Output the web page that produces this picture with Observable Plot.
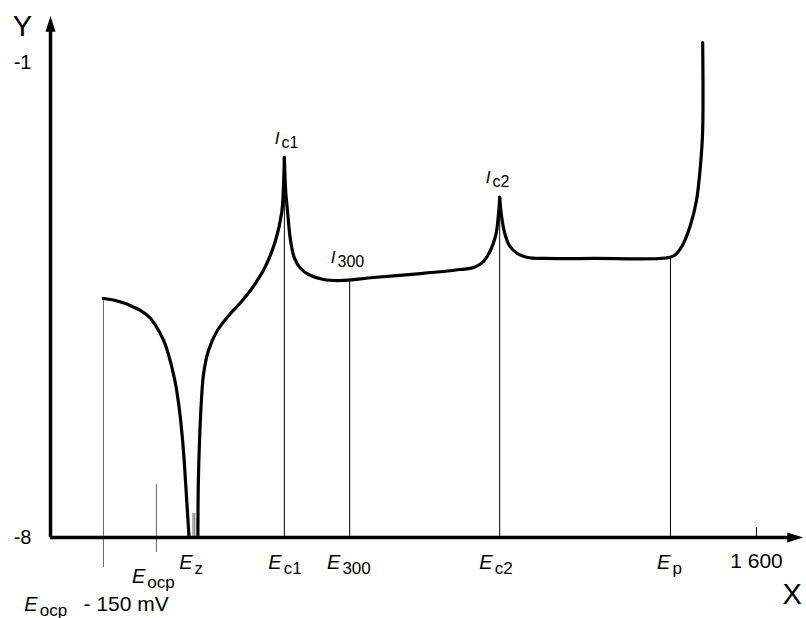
<!DOCTYPE html>
<html><head><meta charset="utf-8">
<script src="https://cdn.jsdelivr.net/npm/d3@7"></script>
<script src="https://cdn.jsdelivr.net/npm/@observablehq/plot@0.6"></script>
<style>body{margin:0;background:#fff;} svg{display:block}</style>
</head><body><div id="chart"></div>
<script>
// Potential (mV) vs log current density, schematic polarisation curve
const cathodicBranch = [[120,-4.478],[147,-4.507],[170,-4.552],[190,-4.610],[204,-4.654],[227,-4.773],[245,-4.950],[261,-5.170],[274,-5.465],[286,-5.833],[295,-6.275],[303,-6.865],[308,-7.380],[314,-8.0]];
const activeBranch = [[334,-8.0],[335,-7.204],[338,-6.526],[342,-5.981],[347,-5.583],[358,-5.244],[378,-4.949],[408,-4.699],[431,-4.537],[458,-4.316],[487,-4.006],[510,-3.623],[524,-3.211],[528,-2.813],[530,-2.400]];
const passiveBranch = [[530,-2.400],[533,-2.886],[537,-3.181],[544,-3.623],[553,-3.888],[567,-4.036],[585,-4.124],[619,-4.198],[657,-4.213],[732,-4.168],[839,-4.110],[929,-4.051],[959,-4.021],[981,-3.933],[997,-3.771],[1009,-3.549],[1015,-3.255],[1018,-2.989]];
const transpassiveBranch = [[1018,-2.989],[1022,-3.255],[1029,-3.505],[1040,-3.697],[1058,-3.815],[1081,-3.874],[1122,-3.888],[1231,-3.888],[1394,-3.881],[1414,-3.844],[1432,-3.697],[1450,-3.402],[1464,-3.034],[1473,-2.518],[1478,-2.002],[1478,-0.705]];

const branchNames = ["active","passive","transpassive"];
const branches = [activeBranch, passiveBranch, transpassiveBranch];
const anodicCurve = branches.flatMap((b, i) => b.map(([x, y]) => ({x, y, branch: branchNames[i]})));
const cathodicCurve = cathodicBranch.map(([x, y]) => ({x, y}));

// vertical marker lines (x in mV, from y1 to y2)
const markerLines = [
  {x: 530, y1: -2.40, y2: -8},
  {x: 678, y1: -4.213, y2: -8},
  {x: 1018, y1: -2.989, y2: -8},
  {x: 1405, y1: -3.874, y2: -8},
  {x: 1600, y1: -7.853, y2: -8}
];
const greyLines = [
  {x: 120, y1: -4.478, y2: -8.442},
  {x: 240, y1: -7.219, y2: -8.221},
  {x: 323, y1: -7.646, y2: -8},
  {x: 327, y1: -7.646, y2: -8}
];

// axis ends
const axisXEnd = 1706, axisXLineEnd = 1686;
const axisYEnd = -0.31, axisYLineEnd = -0.46;
const yTicks = [-1, -8];
const yTickLabels = ["-1", "-8"];
const xTickLabel = "1 600";

// potential labels on the X axis (E with subscript)
const potentialRow1 = [{sub: "z", at: 322}, {sub: "c1", at: 524}, {sub: "300", at: 657}, {sub: "c2", at: 1002}, {sub: "p", at: 1405}];
const potentialRow2 = [{sub: "ocp", at: 215}];
const potentialRow3 = [{sub: "ocp", at: -29, rest: "- 150 mV", restAt: 75}];

// current labels (I with subscript)
const currentLabels = [{sub: "c1", x: 519, y: -2.194}, {sub: "300", x: 646, y: -3.962}, {sub: "c2", x: 997, y: -2.783}];

const arrowHead = {draw(ctx) { ctx.moveTo(0, 0); ctx.lineTo(-5, 16); ctx.lineTo(5, 16); ctx.closePath(); }};

const bottom = () => -8;
const E = () => "E";
const I = () => "I";

const chart = Plot.plot({
  width: 806, height: 618,
  x: {domain: [0, 1600], range: [50, 756], axis: null},
  y: {domain: [-8, -1], range: [537, 62], axis: null},
  style: {fontFamily: "'Liberation Sans', Arial, sans-serif", background: "#fff", color: "#000"},
  marks: [
    Plot.ruleX(greyLines, {x: "x", y1: "y1", y2: "y2", stroke: "#666", strokeWidth: 1}),
    Plot.ruleX(markerLines, {x: "x", y1: "y1", y2: "y2", stroke: "#000", strokeWidth: 1}),
    Plot.line(cathodicCurve, {x: "x", y: "y", curve: "monotone-x", stroke: "#000", strokeWidth: 3.2}),
    Plot.line(anodicCurve, {x: "x", y: "y", z: "branch", curve: "catmull-rom", stroke: "#000", strokeWidth: 3.2}),
    // axes
    Plot.ruleX([0], {y1: () => -8, y2: () => axisYLineEnd, stroke: "#000", strokeWidth: 3.5}),
    Plot.ruleY([-8], {x1: () => 0, x2: () => axisXLineEnd, stroke: "#000", strokeWidth: 3.5}),
    Plot.dot([0], {x: () => 0, y: () => axisYEnd, symbol: arrowHead, fill: "#000", stroke: "none", r: 5}),
    Plot.dot([0], {x: () => axisXEnd, y: () => -8, symbol: arrowHead, fill: "#000", stroke: "none", r: 5, rotate: 90}),
    Plot.text(yTicks, {x: () => 0, y: d => d, text: (d, i) => yTickLabels[i], textAnchor: "end", lineAnchor: "bottom", dx: -19, dy: 6, fontSize: 20}),
    Plot.text([xTickLabel], {x: () => 1600, y: bottom, text: d => d, textAnchor: "middle", lineAnchor: "bottom", dy: 30, fontSize: 21}),
    Plot.text(["Y"], {x: () => 0, y: () => axisYEnd, text: d => d, textAnchor: "middle", lineAnchor: "bottom", dx: -28, dy: 20, fontSize: 29}),
    Plot.text(["X"], {x: () => axisXEnd, y: bottom, text: d => d, textAnchor: "middle", lineAnchor: "bottom", dx: -11, dy: 66, fontSize: 29}),
    // E labels
    Plot.text(potentialRow1, {x: "at", y: bottom, text: E, textAnchor: "end", lineAnchor: "bottom", dy: 31, fontSize: 20, fontStyle: "italic"}),
    Plot.text(potentialRow1, {x: "at", y: bottom, text: "sub", textAnchor: "start", lineAnchor: "bottom", dx: 2, dy: 36, fontSize: 17}),
    Plot.text(potentialRow2, {x: "at", y: bottom, text: E, textAnchor: "end", lineAnchor: "bottom", dy: 45, fontSize: 20, fontStyle: "italic"}),
    Plot.text(potentialRow2, {x: "at", y: bottom, text: "sub", textAnchor: "start", lineAnchor: "bottom", dx: 2, dy: 50, fontSize: 17}),
    Plot.text(potentialRow3, {x: "at", y: bottom, text: E, textAnchor: "end", lineAnchor: "bottom", dy: 73, fontSize: 20, fontStyle: "italic"}),
    Plot.text(potentialRow3, {x: "at", y: bottom, text: "sub", textAnchor: "start", lineAnchor: "bottom", dx: 2, dy: 78, fontSize: 17}),
    Plot.text(potentialRow3, {x: "restAt", y: bottom, text: "rest", textAnchor: "start", lineAnchor: "bottom", dy: 73, fontSize: 21}),
    // I labels
    Plot.text(currentLabels, {x: "x", y: "y", text: I, textAnchor: "end", lineAnchor: "bottom", fontSize: 17, fontStyle: "italic"}),
    Plot.text(currentLabels, {x: "x", y: "y", text: "sub", textAnchor: "start", lineAnchor: "bottom", dx: 2, dy: 4, fontSize: 16})
  ]
});
document.getElementById("chart").appendChild(chart);
</script>
</body></html>
